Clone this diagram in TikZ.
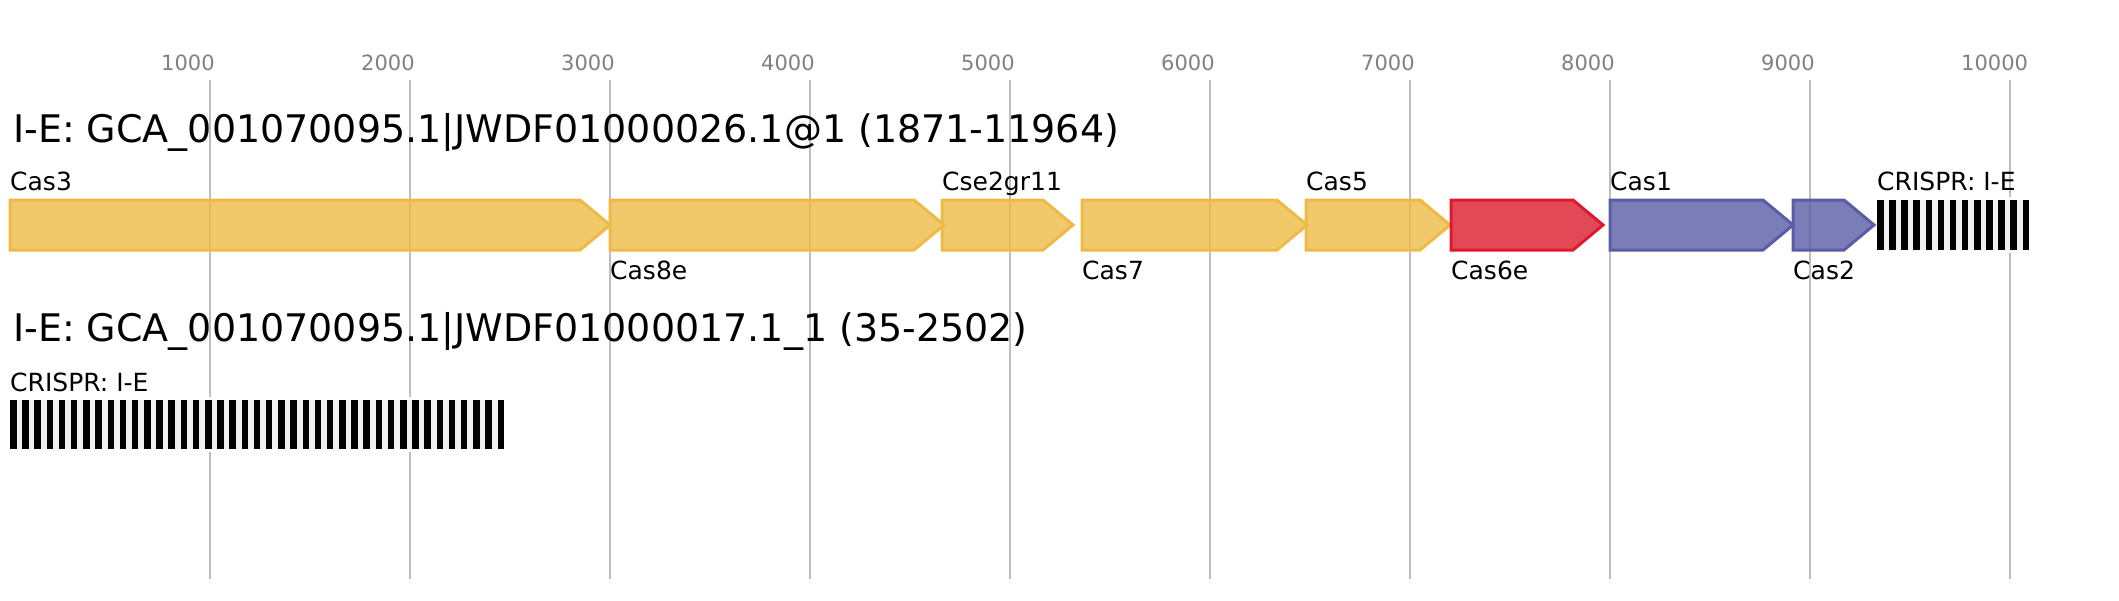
\documentclass[tikz,border=0pt]{standalone}
\usepackage{fontspec}
\setmainfont{DejaVu Sans}
\usetikzlibrary{positioning, calc}

\definecolor{casyellow}{HTML}{EDBB45}
\definecolor{casred}{HTML}{DC1A2C}
\definecolor{casblue}{HTML}{5A5CA6}
\definecolor{gridgray}{HTML}{BEBEBE}
\definecolor{ticktext}{HTML}{808080}
\definecolor{spacer}{HTML}{F0F0F0}

\begin{document}
\begin{tikzpicture}[x=1pt, y=-1pt]
		\tikzstyle{tick_label} = [anchor=base west, inner sep=0, text=ticktext, font=\fontsize{21}{21}\selectfont]
		\tikzstyle{title_label} = [anchor=base west, inner sep=0, font=\fontsize{38}{38}\selectfont]
		\tikzstyle{gene_label} = [anchor=base west, inner sep=0, font=\fontsize{25}{25}\selectfont]
		\tikzstyle{grid_line} = [draw=gridgray, line width=1.6pt]
		\tikzstyle{gene} = [line width=3pt, line join=miter, fill opacity=0.8]
		\tikzstyle{repeat_bar} = [fill=black]

		\useasboundingbox (0,0) rectangle (2119,600);

		% Axis
		\foreach \i in {1,...,10} {
				\coordinate (grid_top_\i) at (10+\i*200, 80);
				\coordinate (grid_bottom_\i) at (10+\i*200, 579);
				\draw[grid_line] (grid_top_\i) -- (grid_bottom_\i);
				\node[tick_label](tick_\i) at ($(grid_top_\i)+(-49,-10)$) {\i000};
			};

		% Locus 1
		\node[title_label](title_one) at (13, 142) {I-E: GCA\_001070095.1|JWDF01000026.1@1 (1871-11964)};

		\foreach \name/\s/\e/\col/\ly in {Cas3/10/610/casyellow/190, Cas8e/610/944/casyellow/279, Cse2gr11/942/1073/casyellow/190, Cas7/1082/1307/casyellow/279, Cas5/1306/1450/casyellow/190, Cas6e/1451/1603/casred/279, Cas1/1610/1793/casblue/190, Cas2/1793/1874/casblue/279} {
				\draw[gene, draw=\col, fill=\col] (\s, 200) -- (\e-30, 200) -- (\e, 225) -- (\e-30, 250) -- (\s, 250) -- cycle;
				\node[gene_label](label_\name) at (\s, \ly) {\name};
			};

		% CRISPR array of locus 1
		\fill[white] (1877, 197) rectangle (2029, 253);
		\fill[spacer] (1877, 200) rectangle (2029, 250);
		\foreach \j in {0,...,12} {
				\fill[repeat_bar] (1877+\j*12.125, 200) rectangle ++(6.5, 50);
			};
		\node[gene_label](label_crispr_one) at (1877, 190) {CRISPR: I-E};

		% Locus 2
		\node[title_label](title_two) at (13, 341) {I-E: GCA\_001070095.1|JWDF01000017.1\_1 (35-2502)};

		% CRISPR array of locus 2
		\fill[white] (10, 397) rectangle (504, 452);
		\fill[spacer] (10, 400) rectangle (504, 449);
		\foreach \j in {0,...,40} {
				\fill[repeat_bar] (10+\j*12.1875, 400) rectangle ++(6.5, 49);
			};
		\node[gene_label](label_crispr_two) at (10, 391) {CRISPR: I-E};

	\end{tikzpicture}
\end{document}
